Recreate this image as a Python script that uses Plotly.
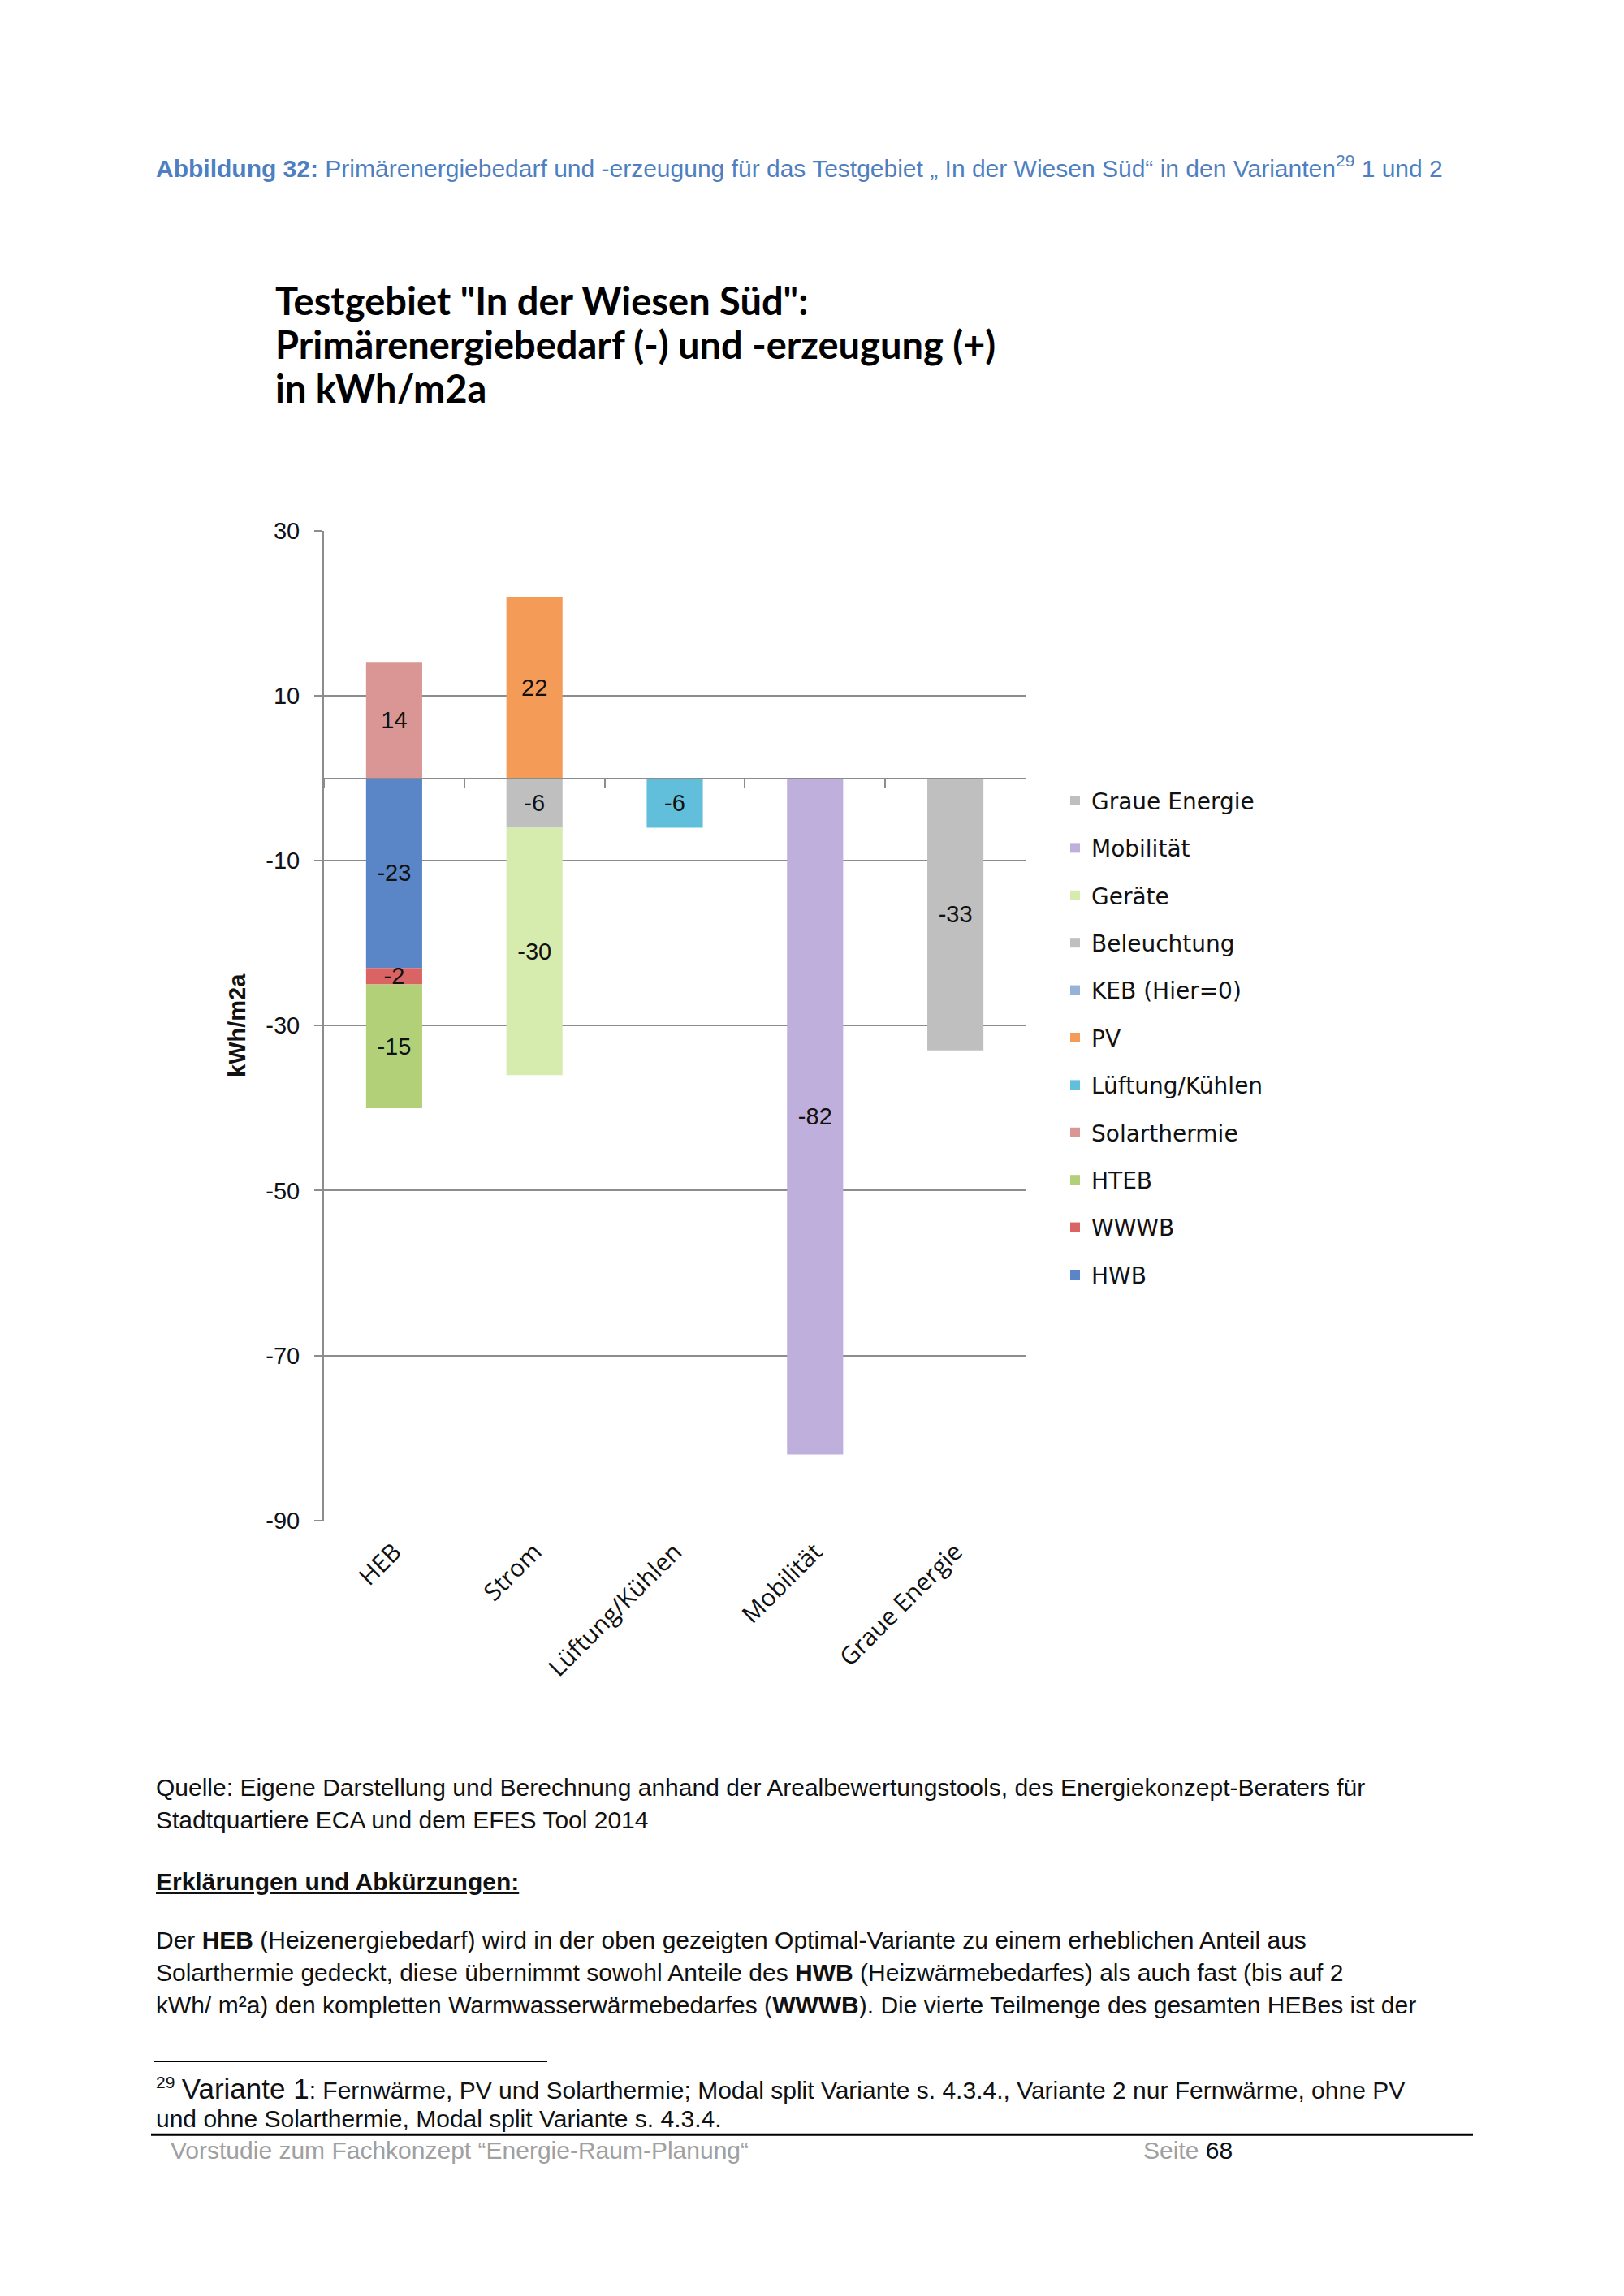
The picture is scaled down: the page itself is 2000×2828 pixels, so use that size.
import plotly.graph_objects as go

W, H = 2000, 2828

categories = ["HEB", "Strom", "Lüftung/Kühlen", "Mobilität", "Graue Energie"]

# series in Excel stacking order (legend shown reversed)
series_names = ["HWB", "WWWB", "HTEB", "Solarthermie", "Lüftung/Kühlen", "PV",
                "KEB (Hier=0)", "Beleuchtung", "Geräte", "Mobilität", "Graue Energie"]
hwb = [-23, None, None, None, None]
wwwb = [-2, None, None, None, None]
hteb = [-15, None, None, None, None]
solarthermie = [14, None, None, None, None]
lueftung = [None, None, -6, None, None]
pv = [None, 22, None, None, None]
keb = [0, None, None, None, None]
beleuchtung = [None, -6, None, None, None]
geraete = [None, -30, None, None, None]
mobilitaet = [None, None, None, -82, None]
graue = [None, None, None, None, -33]
series_values = [hwb, wwwb, hteb, solarthermie, lueftung, pv, keb,
                 beleuchtung, geraete, mobilitaet, graue]
series_colors = ["#5A86C8", "#DA6464", "#B2D078", "#D99694", "#62BFDC", "#F59B58",
                 "#95B3D7", "#BFBFBF", "#D6EBAE", "#BFAFDC", "#BFBFBF"]

y_ticks = [30, 10, -10, -30, -50, -70, -90]

def px(x):
    return x / W

def py(y):
    return 1 - y / H

# plot area in page pixels
X0, X1 = 391, 1255
Y0, Y1 = 637, 1870
ydom = [py(Y1), py(Y0)]
zero_pos = ydom[0] + (0 - min(y_ticks)) / (max(y_ticks) - min(y_ticks)) * (ydom[1] - ydom[0])

LABEL_FONT = dict(family="Liberation Sans, Arial, sans-serif", size=29, color="#111111")

fig = go.Figure()
n = len(series_names)
for i, (name, vals, col) in enumerate(zip(series_names, series_values, series_colors)):
    fig.add_trace(go.Bar(
        name=name, x=categories, y=vals,
        marker=dict(color=col, line=dict(width=0)),
        text=[(None if (v is None or v == 0) else f"{v:g}") for v in vals],
        textposition="inside", insidetextanchor="middle", textangle=0,
        constraintext="none",
        textfont=LABEL_FONT,
        legendgroup=name, legendrank=n - i,
        cliponaxis=False,
    ))

# invisible helper trace to carry the category axis drawn at y = 0
fig.add_trace(go.Scatter(x=categories, y=[0] * len(categories), xaxis="x2", yaxis="y",
                         mode="markers", marker=dict(opacity=0), showlegend=False,
                         hoverinfo="skip"))

GRID = "#8C8C8C"
fig.update_layout(
    width=W, height=H,
    margin=dict(l=0, r=0, t=0, b=0),
    paper_bgcolor="white", plot_bgcolor="white",
    barmode="relative", bargap=0.6,
    showlegend=True,
    legend=dict(
        x=px(1296), y=py(948), xanchor="left", yanchor="top",
        traceorder="grouped", tracegroupgap=19,
        font=dict(family="DejaVu Sans, Verdana, sans-serif", size=28, color="#111111"),
        itemwidth=30, bgcolor="rgba(0,0,0,0)",
    ),
    xaxis=dict(
        domain=[px(X0), px(X1)], anchor="y",
        type="category", categoryorder="array", categoryarray=categories,
        showline=False, showgrid=False, zeroline=False, ticks="",
        tickangle=-45,
        tickfont=dict(family="Open Sans, Lato, sans-serif", size=30, color="#111111"),
        ticklabelstandoff=14,
    ),
    xaxis2=dict(
        overlaying="x", matches="x", anchor="free", position=zero_pos,
        type="category", categoryorder="array", categoryarray=categories,
        showline=True, linecolor=GRID, linewidth=2,
        ticks="outside", tickson="boundaries", ticklen=10, tickwidth=2, tickcolor=GRID,
        showticklabels=False, showgrid=False, zeroline=False,
    ),
    yaxis=dict(
        domain=ydom, range=[min(y_ticks), max(y_ticks)],
        tickmode="array", tickvals=y_ticks, ticktext=[str(t) for t in y_ticks],
        showgrid=True, gridcolor=GRID, gridwidth=2,
        zeroline=False,
        showline=True, linecolor=GRID, linewidth=2,
        ticks="outside", ticklen=10, tickwidth=2, tickcolor=GRID,
        tickfont=LABEL_FONT, ticklabelstandoff=12,
        title=dict(text="<b>kWh/m2a</b>", standoff=16,
                   font=dict(family="Liberation Sans, Arial, sans-serif", size=29, color="#111111")),
    ),
)

BODY = "Liberation Sans, Arial, sans-serif"
BLUE = "#4F7FC0"
anns = []

def add_text(x, y, text, size=30, color="#111111", family=BODY, **kw):
    anns.append(dict(x=px(x), y=py(y), xref="paper", yref="paper", text=text,
                     showarrow=False, xanchor="left", yanchor="middle", align="left",
                     font=dict(family=family, size=size, color=color, **kw)))

add_text(182, 183, "<b>Abbildung 32:</b> Primärenergiebedarf und -erzeugung für das Testgebiet „ In der Wiesen Süd“ in den Varianten<sup>29</sup> 1 und 2",
         size=30, color=BLUE)

TITLE_FONT = "Lato, Noto Sans, sans-serif"
add_text(329, 350, "<b>Testgebiet \"In der Wiesen Süd\":</b>", size=47, family=TITLE_FONT, color="#000")
add_text(329, 405, "<b>Primärenergiebedarf (-) und -erzeugung (+)</b>", size=47, family=TITLE_FONT, color="#000")
add_text(329, 459, "<b>in kWh/m2a</b>", size=47, family=TITLE_FONT, color="#000")

add_text(182, 2202, "Quelle: Eigene Darstellung und Berechnung anhand der Arealbewertungstools, des Energiekonzept-Beraters für")
add_text(182, 2243, "Stadtquartiere ECA und dem EFES Tool 2014")
add_text(182, 2320, "<b>Erklärungen und Abkürzungen:</b>", lineposition="under")
add_text(182, 2393, "Der <b>HEB</b> (Heizenergiebedarf) wird in der oben gezeigten Optimal-Variante zu einem erheblichen Anteil aus")
add_text(182, 2433, "Solarthermie gedeckt, diese übernimmt sowohl Anteile des <b>HWB</b> (Heizwärmebedarfes) als auch fast (bis auf 2")
add_text(182, 2473, "kWh/ m²a) den kompletten Warmwasserwärmebedarfes (<b>WWWB</b>). Die vierte Teilmenge des gesamten HEBes ist der")

add_text(182, 2578, "<sup>29</sup> <span style='font-size:35px'>Variante 1</span>: Fernwärme, PV und Solarthermie; Modal split Variante s. 4.3.4., Variante 2 nur Fernwärme, ohne PV", size=30)
add_text(182, 2615, "und ohne Solarthermie, Modal split Variante s. 4.3.4.", size=30)

add_text(200, 2655, "Vorstudie zum Fachkonzept “Energie-Raum-Planung“", size=30, color="#A0A0A0")
add_text(1398, 2655, "Seite <span style='color:#111111'>68</span>", size=30, color="#A0A0A0")

fig.update_layout(annotations=anns)

fig.add_shape(type="line", xref="paper", yref="paper", x0=px(182), x1=px(666),
              y0=py(2544), y1=py(2544), line=dict(color="#000", width=1.5))
fig.add_shape(type="line", xref="paper", yref="paper", x0=px(178), x1=px(1806),
              y0=py(2635), y1=py(2635), line=dict(color="#000", width=3))

fig.write_html("out.html")
